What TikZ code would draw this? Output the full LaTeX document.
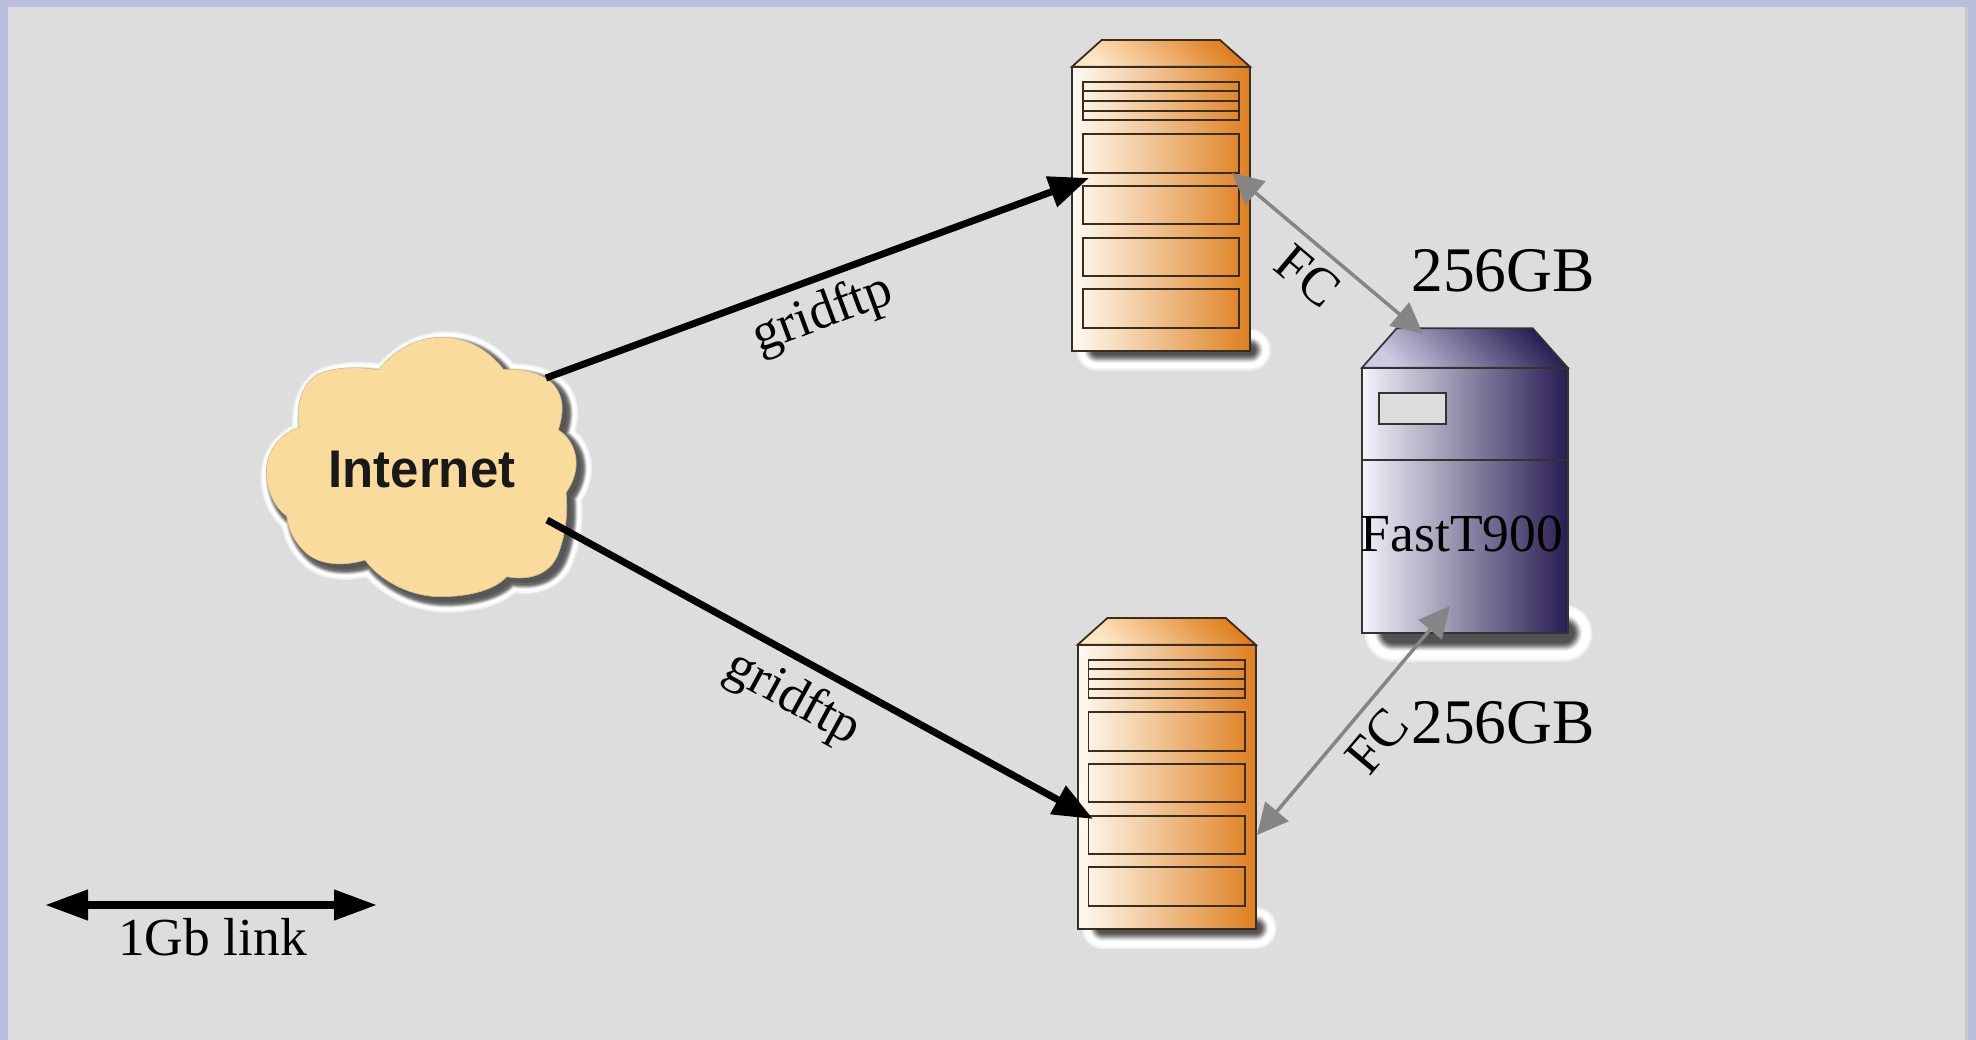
\documentclass[tikz,border=0pt]{standalone}
\usepackage{fontspec}
\setmainfont{Liberation Serif}
\newfontfamily\labelsans{Liberation Sans}
\usetikzlibrary{arrows.meta}
\definecolor{pagebg}{HTML}{DDDDDD}
\definecolor{edgeblue}{HTML}{B9BFDC}
\definecolor{edgeshade}{HTML}{CACACA}
\definecolor{cloudfill}{HTML}{F9DC9C}
\definecolor{linkgray}{HTML}{858585}
\definecolor{boxline}{HTML}{3A2C1E}
\definecolor{srvL}{HTML}{FFFBF3}
\definecolor{srvM}{HTML}{EBB077}
\definecolor{srvR}{HTML}{DE7F1F}
\definecolor{srvT}{HTML}{FFE6C6}
\definecolor{towL}{HTML}{F4F2FA}
\definecolor{towM}{HTML}{6F6390}
\definecolor{towR}{HTML}{281D52}
\definecolor{towT}{HTML}{CFC9E2}
\newcommand{\softshadow}[5]{% x1,x2,y,dark half width,halo half width
  \draw[line cap=round,line width={2*(#5)*1pt},draw=black!7] (#1,#3) -- (#2,#3);
  \draw[line cap=round,line width={2*(#5-1.5)*1pt},draw=black!3] (#1,#3) -- (#2,#3);
  \draw[line cap=round,line width={2*(#5-3)*1pt},draw=white] (#1,#3) -- (#2,#3);
  \foreach \d/\c in {9/0,8/6,7/14,6/22,5/32,4/42,3/50,2/58,1/64,0/68}{
    \draw[line cap=round,line width={2*(#4+\d)*1pt},draw=black!\c] (#1,#3) -- (#2,#3);
  }}
\newcommand{\cloudoutline}{(415,180) .. controls (470,110) and (540,80) .. (610,82) .. controls (690,85) and (750,125) .. (790,178) .. controls (860,175) and (930,195) .. (955,245) .. controls (975,285) and (965,325) .. (955,360) .. controls (995,385) and (1012,430) .. (1008,470) .. controls (1005,505) and (990,530) .. (978,548) .. controls (985,610) and (975,680) .. (955,730) .. controls (935,785) and (880,815) .. (800,800) .. controls (760,845) and (670,862) .. (590,860) .. controls (500,855) and (420,810) .. (375,750) .. controls (310,770) and (240,765) .. (200,730) .. controls (165,700) and (145,660) .. (140,618) .. controls (100,590) and (75,530) .. (80,470) .. controls (85,420) and (120,370) .. (178,352) .. controls (165,290) and (185,215) .. (240,190) .. controls (290,170) and (360,170) .. (415,180) -- cycle}
\tikzset{
  serif63/.style={font=\fontsize{63.5}{70}\selectfont,inner sep=0pt,text=black},
  serif53/.style={font=\fontsize{53.5}{60}\selectfont,inner sep=0pt,text=black},
  serverbody/.style={draw=boxline,line width=1.8pt,left color=srvL,middle color=srvM,right color=srvR},
  servertop/.style={draw=boxline,line width=1.8pt,left color=srvT,right color=srvR,shading angle=135},
  slot/.style={draw=boxline,line width=1.7pt},
  towerbody/.style={draw=black!80,line width=1.7pt,left color=towL,middle color=towM,right color=towR},
  towertop/.style={draw=black!80,line width=1.7pt,left color=towT,right color=towR,shading angle=135},
  biglink/.style={draw=black,line width=7pt,-{Triangle[length=40pt,width=31pt]}},
  fclink/.style={draw=linkgray,line width=3.5pt,{Triangle[length=31pt,width=30pt]}-{Triangle[length=31pt,width=30pt]}},
  legendlink/.style={draw=black,line width=7.5pt,{Triangle[length=43pt,width=29pt]}-{Triangle[length=43pt,width=29pt]}}
}
\begin{document}
\begin{tikzpicture}[x=1pt,y=-1pt]
\useasboundingbox (0,0) rectangle (1976,1040);
\fill[edgeblue] (0,0) rectangle (1976,1040);
\fill[pagebg] (8,7) rectangle (1968,1040);
\fill[edgeshade] (1965,7) rectangle (1968,1040);
% cloud
\begin{scope}[shift={(240,310)},scale=1/3]
  \begin{scope}[shift={(15,15)}]
    \foreach \w/\c in {22/7,20/3,17/0,13/0,12/8,10.5/18,9/30,7.5/42,6/52,4/60}{
      \draw[draw=black!\c,line width=\w pt,line join=round] \cloudoutline;
    }
    \fill[black!66] \cloudoutline;
  \end{scope}
  \draw[fill=cloudfill,draw=cloudfill!85!black,line width=0.6pt] \cloudoutline;
\end{scope}
\node[font=\labelsans\bfseries\fontsize{53}{60}\selectfont,text=black!90,inner sep=0pt,anchor=base,xscale=0.96] (internet) at (422,487) {Internet};
% servers
\foreach \dx/\dy in {0/0,5.7/578}{
\begin{scope}[shift={(\dx,\dy)}]
  \softshadow{1097}{1250}{350}{5}{21}
  \path[servertop] (1072,66.7) -- (1101.7,40) -- (1220,40) -- (1250,66.7) -- cycle;
  \path[serverbody] (1072,66.7) rectangle (1250,351);
  \draw[slot] (1082.7,81.7) rectangle (1239.3,120);
  \draw[slot] (1082.7,91) -- (1239.3,91) (1082.7,101) -- (1239.3,101) (1082.7,111) -- (1239.3,111);
  \draw[slot] (1082.7,134.3) rectangle (1239.3,173);
  \draw[slot] (1082.7,186) rectangle (1239.3,224.3);
  \draw[slot] (1082.7,237.7) rectangle (1239.3,276.3);
  \draw[slot] (1082.7,289.3) rectangle (1239.3,328.3);
\end{scope}
}
% storage tower
\softshadow{1393}{1564}{633}{10}{28.5}
\path[towertop] (1362,367.7) -- (1396.7,328.3) -- (1532.7,328.3) -- (1567.7,367.7) -- cycle;
\path[towerbody] (1362,367.7) rectangle (1567.7,633.3);
\draw[draw=black!80,line width=1.7pt] (1362,460.3) -- (1567.7,460.3);
\draw[draw=black!80,line width=1.7pt,fill=pagebg] (1379.3,392.7) rectangle (1446.3,423.7);
\node[serif53,anchor=base] (tower) at (1462,551.7) {FastT900};
% link ends
\coordinate (netup) at (546,378);
\coordinate (netdown) at (547,520);
\coordinate (srvAin) at (1089,178);
\coordinate (srvBin) at (1093,819);
\coordinate (srvAfc) at (1232,173);
\coordinate (srvBfc) at (1257,835);
\coordinate (towup) at (1423,334);
\coordinate (towdown) at (1450,606);
\coordinate (legL) at (45,905);
\coordinate (legR) at (377,905);
\draw[biglink] (netup) -- (srvAin);
\draw[biglink] (netdown) -- (srvBin);
\draw[fclink] (srvAfc) -- (towup);
\draw[fclink] (towdown) -- (srvBfc);
\draw[legendlink] (legL) -- (legR);
% labels
\node[serif53,anchor=base] (legend) at (212.5,955) {1Gb link};
\node[serif63,anchor=base] (capA) at (1503,292) {256GB};
\node[serif63,anchor=base] (capB) at (1503,743) {256GB};
\node[serif53,rotate=20.3] (gfA) at (823,315) {gridftp};
\node[serif53,rotate=-28.7] (gfB) at (792.5,699) {gridftp};
\node[serif53,rotate=-40] (fcA) at (1308,276) {FC};
\node[serif53,rotate=50] (fcB) at (1377,741) {FC};
\end{tikzpicture}
\end{document}
